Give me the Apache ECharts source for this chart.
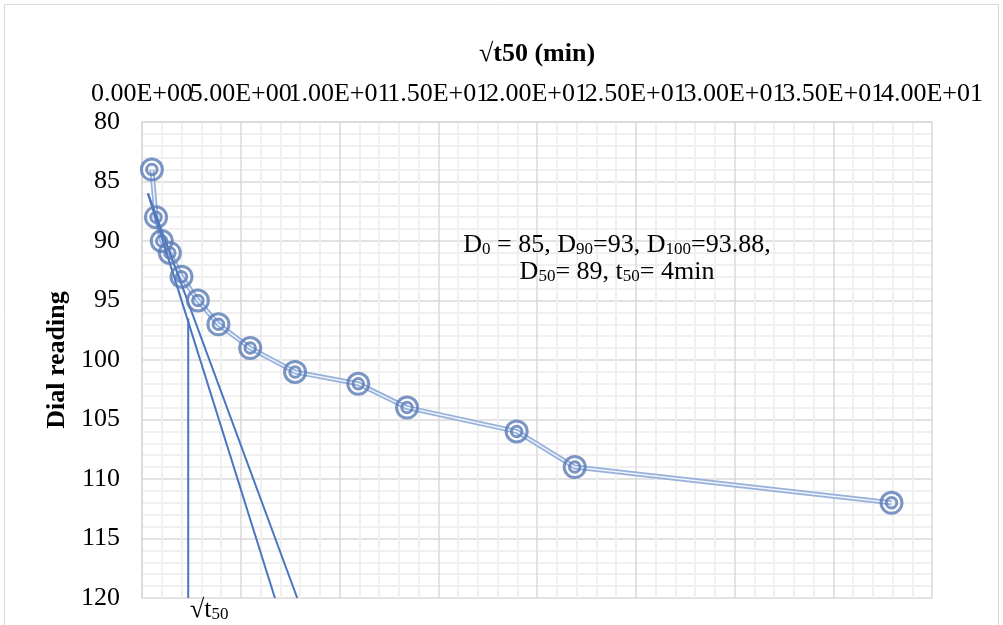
<!DOCTYPE html>
<html>
<head>
<meta charset="utf-8">
<script src="https://cdn.jsdelivr.net/npm/echarts@6/dist/echarts.min.js"></script>
<style>
  html, body { margin: 0; padding: 0; background: #fff; }
  #chart { width: 1003px; height: 625px; }
</style>
</head>
<body>
<div id="chart"></div>
<script>
// readings taken off the plot: √t (min) against dial reading
let sqrtTime = [0.5, 0.71, 1.0, 1.41, 2.0, 2.83, 3.87, 5.48, 7.75, 10.95, 13.42, 18.97, 21.91, 37.95]
let dialReading = [84, 88, 90, 91, 93, 95, 97, 99, 101, 102, 104, 106, 109, 112]
// construction lines of the √t method
let tangentLine = [[0.3, 86], [6.73, 120]]
let tangentLine115 = [[0.3, 86], [7.86, 120]]
let t50Line = [[2.34, 96.5], [2.34, 120]]

let points = sqrtTime.map((x, i) => [x, dialReading[i]])

const serif = 'Liberation Serif, Times New Roman, serif'

// 5 -> 5.00E+00, 10 -> 1.00E+01
function sci(v) {
  let parts = v.toExponential(2).split('e')
  let n = parseInt(parts[1])
  return parts[0] + 'E' + (n < 0 ? '-' : '+') + String(Math.abs(n)).padStart(2, '0')
}

let ringStyle = { color: 'rgba(0,0,0,0)', borderColor: '#5a7cb5', borderWidth: 3 }
let blueLine = { color: '#4a76c0', width: 2 }

let subRich = {
  n: { fontFamily: serif, fontSize: 26, color: '#000', lineHeight: 27 },
  s: { fontFamily: serif, fontSize: 17, color: '#000', lineHeight: 12, verticalAlign: 'bottom' }
}

// the tick labels touch each other, so they are split over two stacked top axes
// (0, 10, 20 ... on one, 5, 15, 25 ... on the other) to keep ECharts from dropping any
function topAxis(show) {
  return {
    type: 'value',
    position: 'top',
    min: 0,
    max: 40,
    interval: 5,
    axisLine: { show: show, lineStyle: { color: '#d9d9d9', width: 1.5 } },
    axisTick: { show: false },
    axisLabel: {
      fontFamily: serif, fontSize: 26, color: '#000', margin: 15,
      showMinLabel: true, showMaxLabel: true
    },
    splitLine: { show: show, lineStyle: { color: '#d9d9d9', width: 1.5 } },
    minorTick: { show: false, splitNumber: 5 },
    minorSplitLine: { show: show, lineStyle: { color: '#f0f0f0', width: 2 } }
  }
}
let xMain = topAxis(true)
xMain.name = '√t50 (min)'
xMain.nameLocation = 'middle'
xMain.nameGap = 55
xMain.nameTextStyle = { fontFamily: serif, fontSize: 26, fontWeight: 'bold', color: '#000' }
xMain.axisLabel.formatter = v => (v % 10 === 0 ? sci(v) : '')
let xHalf = topAxis(false)
xHalf.axisLabel.formatter = v => (v % 10 === 5 ? sci(v) : '')

let chart = echarts.init(document.getElementById('chart'))
chart.setOption({
  animation: false,
  grid: { left: 142, right: 71, top: 122, bottom: 27 },
  xAxis: [xMain, xHalf],
  yAxis: {
    type: 'value',
    inverse: true,
    min: 80,
    max: 120,
    interval: 5,
    name: 'Dial reading',
    nameLocation: 'middle',
    nameGap: 72,
    nameRotate: 90,
    nameTextStyle: { fontFamily: serif, fontSize: 26, fontWeight: 'bold', color: '#000' },
    axisLine: { show: true, lineStyle: { color: '#d9d9d9', width: 1.5 } },
    axisTick: { show: false },
    axisLabel: { fontFamily: serif, fontSize: 26, color: '#000', margin: 22, showMinLabel: true, showMaxLabel: true },
    splitLine: { show: true, lineStyle: { color: '#d9d9d9', width: 1.5 } },
    minorTick: { show: false, splitNumber: 5 },
    minorSplitLine: { show: true, lineStyle: { color: '#f0f0f0', width: 2 } }
  },
  series: [
    { type: 'line', data: points, symbol: 'none', lineStyle: { color: '#97b1dc', width: 5 }, z: 2 },
    { type: 'line', data: points, symbol: 'none', lineStyle: { color: '#eef3fa', width: 1.5 }, z: 3 },
    { type: 'line', data: tangentLine, symbol: 'none', lineStyle: blueLine, z: 4 },
    { type: 'line', data: tangentLine115, symbol: 'none', lineStyle: blueLine, z: 4 },
    { type: 'line', data: t50Line, symbol: 'none', lineStyle: blueLine, z: 4 },
    { type: 'scatter', data: points, symbol: 'circle', symbolSize: 21, itemStyle: ringStyle, z: 5 },
    { type: 'scatter', data: points, symbol: 'circle', symbolSize: 10.5, itemStyle: ringStyle, z: 5 }
  ],
  graphic: [
    { type: 'rect', silent: true, shape: { x: 4.5, y: 4.5, width: 994, height: 640 },
      style: { fill: 'none', stroke: '#d9d9d9', lineWidth: 1 } },
    { type: 'text', x: 617, y: 245, z: 10,
      style: { text: '{n|D}{s|0}{n| = 85, D}{s|90}{n|=93, D}{s|100}{n|=93.88,}', rich: subRich, align: 'center', verticalAlign: 'middle' } },
    { type: 'text', x: 617, y: 272, z: 10,
      style: { text: '{n|D}{s|50}{n|= 89, t}{s|50}{n|= 4min}', rich: subRich, align: 'center', verticalAlign: 'middle' } },
    { type: 'text', x: 190, y: 610, z: 10,
      style: { text: '{n|√t}{s|50}', rich: subRich, align: 'left', verticalAlign: 'middle' } }
  ]
})
</script>
</body>
</html>
